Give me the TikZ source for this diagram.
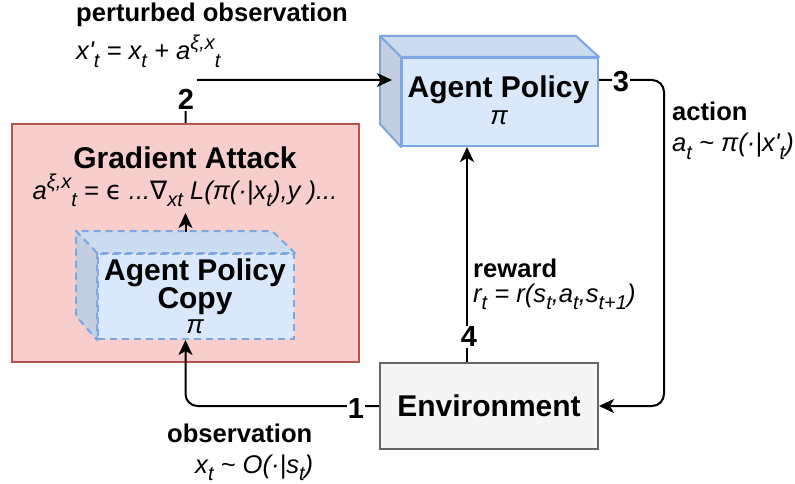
\documentclass[tikz,border=0pt]{standalone}
\usepackage{fontspec}
\setmainfont{Liberation Sans}
\newfontfamily\dv{DejaVu Sans}
\usetikzlibrary{arrows.meta}
\definecolor{bluef}{HTML}{DAE8FC}
\definecolor{bluetop}{HTML}{CCDCF0}
\definecolor{blueleft}{HTML}{C3CFE0}
\definecolor{blued}{HTML}{7EA6E0}
\definecolor{redf}{HTML}{F8CECC}
\definecolor{redd}{HTML}{B85450}
\definecolor{envf}{HTML}{F5F5F5}
\definecolor{envd}{HTML}{666666}
\newcommand{\sbx}[1]{\raisebox{-0.3em}{\fontsize{20}{20}\selectfont #1}}
\newcommand{\spx}[1]{\raisebox{0.42em}{\fontsize{20}{20}\selectfont #1}}
\tikzset{
  face/.style={fill=bluef, draw=blued, line width=2pt, inner sep=0pt},
  cubetop/.style={fill=bluetop, draw=blued, line width=2pt, line join=round},
  cubeleft/.style={fill=blueleft, draw=blued, line width=2pt, line join=round},
  dsh/.style={dash pattern=on 7pt off 5pt},
  title/.style={font=\fontsize{30}{30}\selectfont\bfseries, inner sep=0pt},
  pitext/.style={font=\fontsize{26}{26}\selectfont\itshape, inner sep=0pt},
  lbl/.style={font=\fontsize{25.6}{26}\selectfont\bfseries, inner sep=0pt, anchor=base west},
  formula/.style={font=\fontsize{25.6}{26}\selectfont\itshape, inner sep=0pt, anchor=base west},
  num/.style={font=\fontsize{29}{29}\selectfont\bfseries, fill=white, inner sep=1pt},
  arr/.style={line width=2pt, -{Stealth[length=15pt,width=14pt,inset=4pt]}, rounded corners=12pt},
}
\begin{document}
\begin{tikzpicture}[x=1pt,y=-1pt]
\useasboundingbox (0,0) rectangle (795,484);
\fill[white] (0,0) rectangle (795,484);

% Gradient attack box
\node[fill=redf, draw=redd, line width=2pt, minimum width=347pt, minimum height=238pt, inner sep=0pt] (gat) at (185.5,243) {};
\node[title, anchor=base] (gatt) at (185,168) {Gradient Attack};
\node[formula, anchor=base] (gatf) at (185,199) {a\spx{ξ,x}\sbx{t} = {\dv\upshape ϵ} ...{\dv\upshape ∇}\sbx{xt} L(π(·|x\sbx{t}),y )...};

% copy cube
\node[face, dsh, minimum width=196pt, minimum height=85pt] (cpf) at (196,296.5) {};
\path[cubetop, dsh] (cpf.north west) -- ++(-21,-22) -- ++(196,0) -- (cpf.north east) -- cycle;
\path[cubeleft, dsh] (cpf.north west) -- ++(-21,-22) -- ++(0,85) -- (cpf.south west) -- cycle;
\node[title, anchor=base] (cpt1) at (195,280) {Agent Policy};
\node[title, anchor=base] (cpt2) at (195,308) {Copy};
\node[pitext, anchor=base] (cpt3) at (195,333) {π};

% agent policy cube
\node[face, minimum width=196pt, minimum height=88pt] (ap) at (500,102) {};
\path[cubetop] (ap.north west) -- ++(-21,-21) -- ++(196,0) -- (ap.north east) -- cycle;
\path[cubeleft] (ap.north west) -- ++(-21,-21) -- ++(0,88) -- (ap.south west) -- cycle;
\node[title, anchor=base] (apt1) at (498.5,98) {Agent Policy};
\node[pitext, anchor=base] (apt2) at (499,125) {π};

% environment
\node[fill=envf, draw=envd, line width=2pt, minimum width=218pt, minimum height=86pt, title] (env) at (489,406) {Environment};

% connectors
\coordinate (apin) at (392,80);
\coordinate (cptop) at (185.5,232);
\coordinate (gtip) at (185.5,213);
\draw[arr] (env.west) -| (gat.south |- cpf.south);
\draw[arr] (gat.north) |- (apin);
\draw[arr] ([yshift=22pt]ap.east) -| ([xshift=65pt]env.east) -- (env.east);
\draw[arr] ([xshift=-22pt]env.north) -- ([xshift=-33pt]ap.south);
\draw[arr] (cptop) -- (gtip);

\node[num] (n1) at (356,409) {1};
\node[num, anchor=base, text height=31pt, text depth=0pt, inner xsep=2.5pt] (n2) at (186,110) {2};
\node[num] (n3) at (621,82) {3};
\node[num] (n4) at (469,337) {4};

% labels
\node[lbl] (l2) at (76,22) {perturbed observation};
\node[formula] (f2) at (76,60) {x\textquotesingle\sbx{t} = x\sbx{t} + a\spx{ξ,x}\sbx{t}};
\node[lbl] (l3) at (672,121) {action};
\node[formula] (f3) at (672,152) {a\sbx{t} \textasciitilde{} π(·|x\textquotesingle\sbx{t})};
\node[lbl] (l4) at (473,277) {reward};
\node[formula] (f4) at (473,302) {r\sbx{t} = r(s\sbx{t},a\sbx{t},s\sbx{t+1})};
\node[lbl] (l1) at (167,442) {observation};
\node[formula] (f1) at (195,473) {x\sbx{t} \textasciitilde{} O(·|s\sbx{t})};
\end{tikzpicture}
\end{document}
